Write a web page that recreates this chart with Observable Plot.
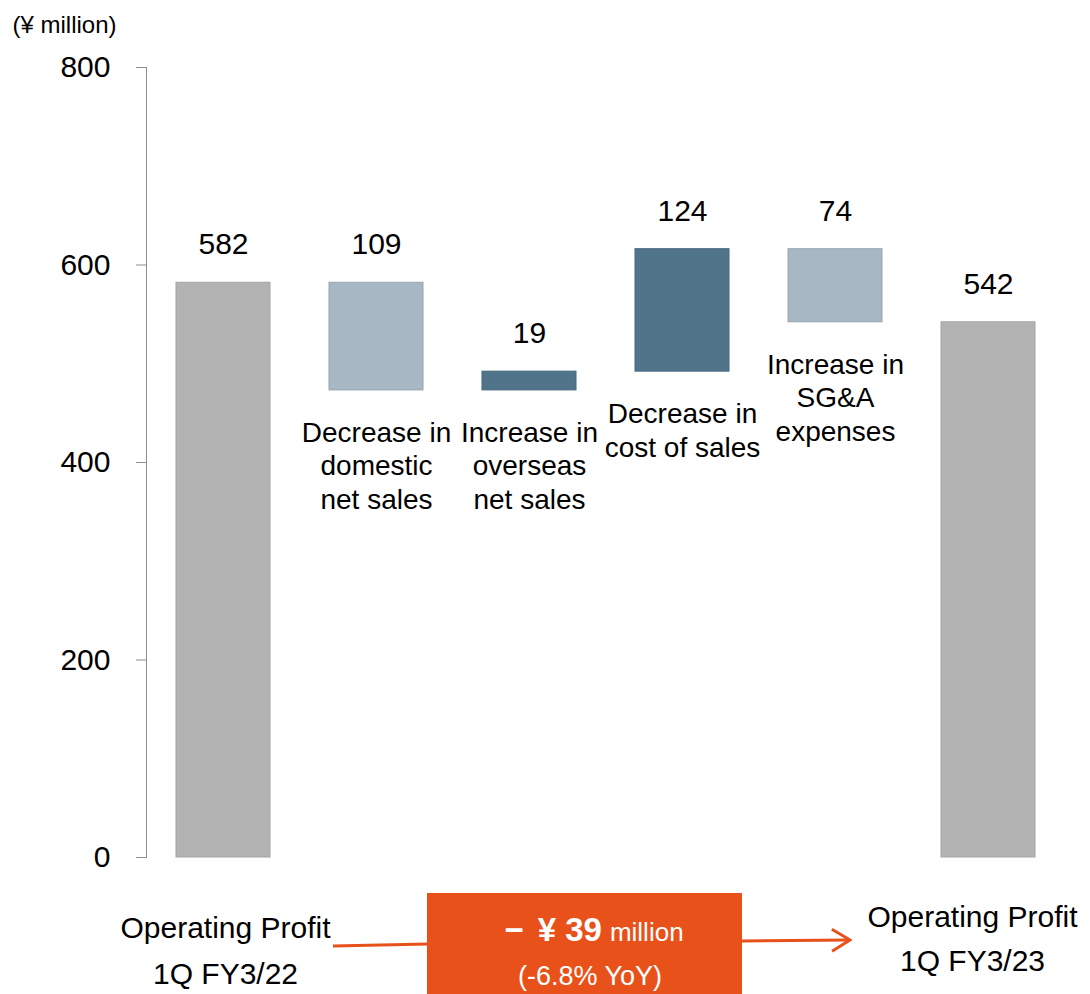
<!DOCTYPE html>
<html><head><meta charset="utf-8">
<script src="https://cdn.jsdelivr.net/npm/d3@7"></script>
<script src="https://cdn.jsdelivr.net/npm/@observablehq/plot@0.6"></script>
<style>
body{margin:0;background:#fff;}
#chart{position:relative;width:1090px;height:994px;}
</style>
</head><body><div id="chart"></div>
<script>
// ---- data ----
const categories = [
  "Operating Profit\n1Q FY3/22",
  "Decrease in\ndomestic\nnet sales",
  "Increase in\noverseas\nnet sales",
  "Decrease in\ncost of sales",
  "Increase in\nSG&A\nexpenses",
  "Operating Profit\n1Q FY3/23"
];
const values = [582, -109, 19, 124, -74, 542];
const valueLabels = ["582", "109", "19", "124", "74", "542"];
const isTotal = [true, false, false, false, false, true];
const yTicks = [0, 200, 400, 600, 800];
const unitLabel = "(¥ million)";
const changeMinus = "−";
const changeMain = "¥ 39";
const changeUnit = "million";
const changePct = "(-6.8% YoY)";

// ---- build table ----
let running = 0;
const rows = categories.map((cat, i) => {
  let lo, hi, kind;
  if (isTotal[i]) { lo = 0; hi = values[i]; running = values[i]; kind = "total"; }
  else {
    const a = running, b = running + values[i];
    lo = Math.min(a, b); hi = Math.max(a, b); running = b;
    kind = values[i] < 0 ? "neg" : "pos";
  }
  return {cat, lo, hi, kind, label: valueLabels[i]};
});
const fills = {total: "#B3B3B3", neg: "#A7B8C4", pos: "#50748A"};
const strokes = {total: "#A3A3A3", neg: "#95A6B2", pos: "#48697E"};

const font = "'Liberation Sans', Arial, sans-serif";
const totals = rows.filter(d => d.kind === "total");
const plot = Plot.plot({
  width: 1090, height: 994,
  marginLeft: 146, marginRight: 25, marginTop: 67, marginBottom: 137,
  style: {fontFamily: font, fontSize: "28px", color: "#000", background: "#fff", overflow: "visible"},
  x: {type: "band", domain: categories, paddingInner: 0.386, paddingOuter: 0.193, axis: null},
  y: {domain: [0, 800], axis: null},
  marks: [
    Plot.frame({anchor: "left", stroke: "#8c8c8c"}),
    Plot.axisY({ticks: yTicks, tickSize: 10, tickPadding: 26, fontSize: 30, stroke: "#8c8c8c", fill: "#000", label: null, tickFormat: d => String(d)}),
    Plot.barY(rows, {x: "cat", y1: "lo", y2: "hi", fill: d => fills[d.kind], stroke: d => strokes[d.kind], strokeWidth: 1}),
    Plot.text(rows, {x: "cat", y: "hi", text: "label", dy: -38, lineAnchor: "middle", fontSize: 30, fill: "#000"}),
    Plot.text(rows.filter(d => d.kind !== "total"), {x: "cat", y: "lo", text: "cat", lineAnchor: "top", dy: 28, lineHeight: 1.19, fontSize: 28, fill: "#000"}),
    Plot.text(totals.slice(0, 1), {x: "cat", y: 0, text: "cat", lineAnchor: "top", dy: 47, dx: 2, lineHeight: 1.55, fontSize: 30, fill: "#000"}),
    Plot.text(totals.slice(1), {x: "cat", y: 0, text: "cat", lineAnchor: "top", dy: 39, dx: -16, lineHeight: 1.45, fontSize: 30, fill: "#000"}),
    Plot.text([unitLabel], {frameAnchor: "top-left", dx: -134, dy: -42, textAnchor: "start", lineAnchor: "middle", fontSize: 24, fill: "#000"})
  ]
});
document.getElementById("chart").appendChild(plot);

// ---- annotation: change box with arrows ----
const svg = d3.select(plot);
const orange = "#E8521A";
const defs = svg.append("defs");
defs.append("marker").attr("id", "arrowhead").attr("viewBox", "0 0 22 26").attr("refX", 20).attr("refY", 13)
  .attr("markerWidth", 22).attr("markerHeight", 26).attr("markerUnits", "userSpaceOnUse").attr("orient", "auto")
  .append("path").attr("d", "M2,2 L20,13 L2,24").attr("fill", "none").attr("stroke", orange).attr("stroke-width", 3);
const g = svg.append("g");
g.append("line").attr("x1", 333).attr("y1", 946).attr("x2", 428).attr("y2", 944).attr("stroke", orange).attr("stroke-width", 3);
g.append("line").attr("x1", 742).attr("y1", 941).attr("x2", 850).attr("y2", 940).attr("stroke", orange).attr("stroke-width", 3).attr("marker-end", "url(#arrowhead)");
g.append("rect").attr("x", 427).attr("y", 893).attr("width", 315).attr("height", 101).attr("fill", orange);
const t1 = g.append("text").attr("x", 594).attr("y", 941).attr("text-anchor", "middle").attr("fill", "#fff").style("font-family", font);
t1.append("tspan").attr("font-weight", "bold").attr("font-size", 33).text(changeMinus);
t1.append("tspan").attr("font-weight", "bold").attr("font-size", 33).attr("dx", 14).text(changeMain);
t1.append("tspan").attr("font-size", 26).attr("dx", 8).text(changeUnit);
g.append("text").attr("x", 590).attr("y", 985).attr("text-anchor", "middle").attr("fill", "#fff").attr("font-size", 27).style("font-family", font).text(changePct);
</script>
</body></html>
